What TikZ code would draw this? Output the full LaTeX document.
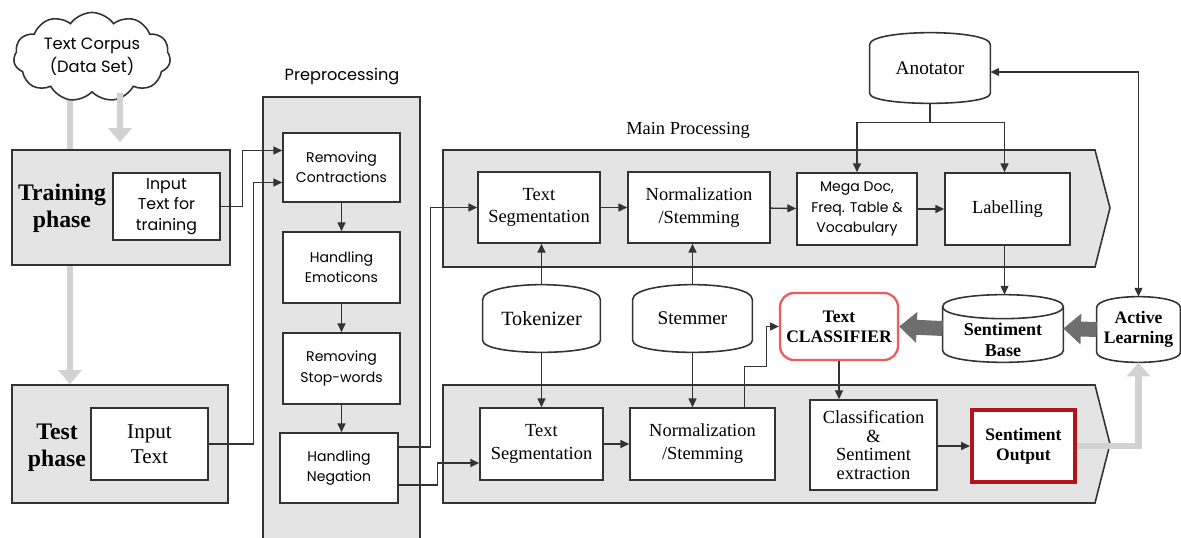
\documentclass[tikz,border=0pt]{standalone}
\usepackage{fontspec}
\setmainfont{Liberation Serif}
\newfontfamily\gothic{Poppins}
\usetikzlibrary{arrows.meta, calc, shapes.symbols, backgrounds}
\definecolor{bandGray}{HTML}{E4E4E4}
\definecolor{lineGray}{HTML}{333333}
\definecolor{lightArrow}{HTML}{D2D2D2}
\definecolor{fatGray}{HTML}{6E6E6E}
\definecolor{clfRed}{HTML}{F05A5A}
\definecolor{outRed}{HTML}{B3141C}

\tikzset{
  px/.style 2 args={minimum width=#1*0.02cm, minimum height=#2*0.02cm},
  box/.style={draw=lineGray, line width=0.9pt, fill=white, align=center, inner sep=1pt},
  phase/.style={draw=lineGray, line width=0.9pt, fill=bandGray},
  band/.style={draw=lineGray, line width=0.9pt, fill=bandGray},
  drum/.style={align=center, inner sep=0pt},
  drumedge/.style={draw=lineGray, line width=0.9pt},
  serif/.style={font=\fontsize{10.5}{13}\selectfont},
  sans/.style={font=\gothic\fontsize{8}{11.5}\selectfont},
  boldtxt/.style={font=\bfseries\fontsize{10}{11.5}\selectfont},
  phaselbl/.style={align=center, font=\bfseries\fontsize{13.5}{15.5}\selectfont},
  arr/.style={-{Triangle[length=5pt,width=4.5pt]}, line width=0.8pt, lineGray},
  light/.style={line width=3.5pt, lightArrow},
  lighthead/.style={-{Triangle[length=8pt,width=13pt]}},
  fat/.style={-{Triangle[length=10pt,width=17pt]}, line width=8.5pt, fatGray}
}

% outline of a drum shaped store round a node
\newcommand\drumline[3]{%
  \draw[drumedge] ($(#1.north west)+(0,#2)$)
    .. controls ($(#1.north west)+(0,-#2/3)$) and ($(#1.north east)+(0,-#2/3)$) .. ($(#1.north east)+(0,#2)$)
    -- ($(#1.south east)+(0,-#3)$)
    .. controls ($(#1.south east)+(0,#3/3)$) and ($(#1.south west)+(0,#3/3)$) .. ($(#1.south west)+(0,-#3)$)
    -- cycle;}

\begin{document}
\begin{tikzpicture}[x=0.02cm, y=-0.02cm]
    \useasboundingbox (0,0) rectangle (1181,538);

    % main processing bands
    \draw[band] (443,150) -- (1095,150) -- (1110,208) -- (1095,267) -- (443,267) -- cycle;
    \draw[band] (443,385) -- (1095,385) -- (1110,444) -- (1095,503) -- (443,503) -- cycle;
    \node[serif] (mainlbl) at (688,130) {Main Processing};

    % phases
    \node[cloud, cloud puffs=11, cloud puff arc=110, cloud ignores aspect, draw=lineGray,
          line width=0.9pt, fill=white, px={152}{88}, align=center,
          font=\gothic\fontsize{9.3}{13}\selectfont] (corpus) at (92,57) {Text Corpus\\(Data Set)};
    \node[phase, px={218}{115}] (train) at (121,207.5) {};
    \node[phaselbl] (trainlbl) at (62,208) {Training\\phase};
    \node[box, px={107}{67}, font=\gothic\fontsize{9}{11.5}\selectfont] (intrain) at (166.5,206.5) {Input\\Text for\\training};
    \node[phase, px={216}{118}] (test) at (120,444) {};
    \node[phaselbl] (testlbl) at (57,448) {Test\\phase};
    \node[box, px={117}{72}, font=\fontsize{12}{14}\selectfont] (intest) at (149.5,444) {Input\\Text};

    % preprocessing
    \node[font=\gothic\fontsize{9.2}{11}\selectfont] (prelbl) at (342,77) {Preprocessing};
    \node[phase, px={157}{450}] (pre) at (341.5,322) {};
    \node[box, sans, px={117}{69}] (rc) at (341.5,167.5) {Removing\\Contractions};
    \node[box, sans, px={117}{71}] (he) at (341.5,267.5) {Handling\\Emoticons};
    \node[box, sans, px={117}{71}] (rs) at (341.5,368.5) {Removing\\Stop-words};
    \node[box, sans, px={118}{70}] (hn) at (339,468) {Handling\\Negation};

    % upper row
    \node[box, serif, px={122}{71}] (ts1) at (539,207.5) {Text\\Segmentation};
    \node[box, serif, px={142}{71}] (ns1) at (699,207.5) {Normalization\\/Stemming};
    \node[box, sans, px={120}{72}] (mega) at (857,209) {Mega Doc,\\Freq. Table \&\\Vocabulary};
    \node[box, serif, px={125}{72}] (lab) at (1007.5,209) {Labelling};

    % stores
    \node[drum, serif, font=\fontsize{11}{13}\selectfont, px={120}{70}] (ano) at (930,68) {Anotator};
    \node[drum, font=\fontsize{11.5}{13}\selectfont, px={117}{67}] (tok) at (541.5,318.5) {Tokenizer};
    \node[drum, font=\fontsize{11}{13}\selectfont, px={119}{67}] (stem) at (692.5,318.5) {Stemmer};
    \node[box, boldtxt, draw=clfRed, line width=1.3pt, rounded corners=8pt, px={118}{67}] (clf) at (839,326.5) {Text\\CLASSIFIER};
    \node[drum, px={120}{67}] (sb) at (1003,328.5) {};
    \node[align=center, font=\bfseries\fontsize{10.3}{12}\selectfont] (sbtxt) at (1003,340) {Sentiment\\Base};
    \node[drum, boldtxt, px={83}{65}] (al) at (1138.5,329.5) {Active\\Learning};
    \drumline{ano}{12}{10}
    \drumline{tok}{15}{12}
    \drumline{stem}{15}{12}
    \drumline{sb}{12}{12}
    \drumline{al}{11}{10}
    \draw[drumedge] ($(sb.north west)+(0,12)$)
        .. controls ($(sb.north west)+(0,28)$) and ($(sb.north east)+(0,28)$) .. ($(sb.north east)+(0,12)$);

    % lower row
    \node[box, serif, px={123}{72}] (ts2) at (541.5,444) {Text\\Segmentation};
    \node[box, serif, px={145}{72}] (ns2) at (702.5,444) {Normalization\\/Stemming};
    \node[box, font=\fontsize{10.5}{10.6}\selectfont, px={127}{90}] (cls) at (873.5,445) {Classification\\\&\\Sentiment\\extraction};
    \node[box, boldtxt, draw=outRed, line width=2.3pt, px={103}{72}] (so) at (1023.5,446) {Sentiment\\Output};

    % gray flow between phases
    \begin{scope}[on background layer]
        \draw[light, lighthead] ($(corpus.center)+(-22,0)$) -- ($(test.north)+(-50,0)$);
    \end{scope}
    \draw[light, lighthead] ($(corpus.south)+(28,0)$) -- ($(train.north)+(-1,-7)$);
    \draw[light, lighthead] (so.east) -| (al.south);
    \draw[fat] (al.west) -- (sb.east);
    \draw[fat] (sb.west) -- (clf.east);

    % connectors
    \draw[arr] (intrain.east) -- ++(22,0) |- ($(rc.west)+(0,-17)$);
    \draw[arr] (intest.east) -- ++(45,0) |- ($(rc.west)+(0,15)$);
    \draw[arr] (rc) -- (he);
    \draw[arr] (he) -- (rs);
    \draw[arr] (rs.south) -- (rs.south |- hn.north);
    \draw[arr] ($(hn.east)+(0,-21)$) -- ++(32,0) |- (ts1.west);
    \draw[arr] ($(hn.east)+(0,17)$) -- ++(39,0) |- ($(ts2.west)+(0,19)$);
    \draw[arr] (ts1) -- (ns1);
    \draw[arr] (ns1) -- (mega);
    \draw[arr] (mega) -- (lab);
    \draw[arr] (ts2) -- (ns2);
    \draw[arr] (cls.east |- so.west) -- (so.west);
    \draw[arr] (tok.north) -- (tok.north |- ts1.south);
    \draw[arr] (stem.north) -- (stem.north |- ns1.south);
    \draw[arr] (tok.south) -- (tok.south |- ts2.north);
    \draw[arr] (stem.south) -- (stem.south |- ns2.north);
    \draw[arr] (ano.south) -- ++(0,19) -| (mega.north);
    \draw[arr] (ano.south) -- ++(0,19) -| ($(lab.north)+(-3,0)$);
    \draw[arr] ($(lab.south)+(-3,0)$) -- ($(lab.south |- sb.north)+(-3,0)$);
    \draw[arr, {Triangle[length=5pt,width=4.5pt]}-{Triangle[length=5pt,width=4.5pt]}]
        ($(ano.east)+(0,4)$) -| (al.north);
    \draw[arr] ($(ns2.north)+(42,0)$) -- ++(0,-41) -- ++(22,0) |- (clf.west);
    \draw[arr] (clf.south) -- (clf.south |- cls.north);
\end{tikzpicture}
\end{document}
